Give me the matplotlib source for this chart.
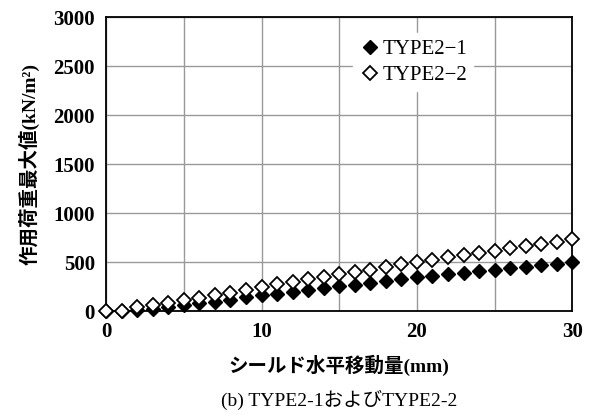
import matplotlib
matplotlib.use('Agg')
import matplotlib.pyplot as plt
import numpy as np

# シールド水平移動量 (mm)
disp = list(range(0, 31))

# 作用荷重最大値 (kN/m2)
type2_1 = [0, 0, 10, 25, 45, 62, 80, 98, 115, 140, 163,
           180, 200, 218, 236, 254, 272, 290, 308, 326, 344,
           360, 376, 392, 408, 424, 440, 455, 470, 484, 497]
type2_2 = [0, 0, 40, 62, 85, 110, 135, 160, 185, 215, 250,
           275, 300, 325, 350, 375, 400, 425, 450, 477, 503,
           525, 548, 571, 594, 617, 640, 663, 686, 709, 732]

plt.rcParams['font.family'] = ['Liberation Serif', 'Noto Sans CJK JP']

fig = plt.figure(figsize=(5.9, 4.16), dpi=100)
ax = fig.add_axes([0.18, 0.252, 0.79, 0.707])

ax.plot(disp, type2_1, 'D', color='black', markersize=7.3, label='TYPE2\u22121',
        zorder=3, clip_on=False)
ax.plot(disp, type2_2, 'D', markerfacecolor='white', markeredgecolor='black',
        markeredgewidth=1.3, markersize=7.3, label='TYPE2\u22122', zorder=4,
        clip_on=False)

ax.set_xlim(0, 30)
ax.set_ylim(0, 3000)
ax.set_xticks([0, 10, 20, 30])
ax.set_xticks([5, 15, 25], minor=True)
ax.set_yticks(np.arange(0, 3001, 500))
ax.tick_params(which='both', length=0, labelsize=15, pad=8)
for lab in ax.get_xticklabels() + ax.get_yticklabels():
    lab.set_fontweight('bold')
ax.grid(True, which='both', color='#999999', linewidth=1)
ax.set_axisbelow(True)
for s in ax.spines.values():
    s.set_linewidth(1.3)

ax.set_xlabel('シールド水平移動量(mm)', fontsize=14, fontweight='bold', labelpad=9)
ax.set_ylabel('作用荷重最大値(kN/m²)', fontsize=14, fontweight='bold', labelpad=10)

leg = ax.legend(loc='upper left', bbox_to_anchor=(0.53, 0.945), frameon=True,
                fontsize=15, handletextpad=0.1, handlelength=1.0,
                borderpad=0.3, labelspacing=0.3, borderaxespad=0)
leg.get_frame().set_edgecolor('white')
leg.get_frame().set_facecolor('white')
leg.get_frame().set_alpha(1)

fig.text(0.575, 0.025, '(b) TYPE2-1およびTYPE2-2', ha='center', fontsize=14)

fig.savefig('out.png', dpi=100)
